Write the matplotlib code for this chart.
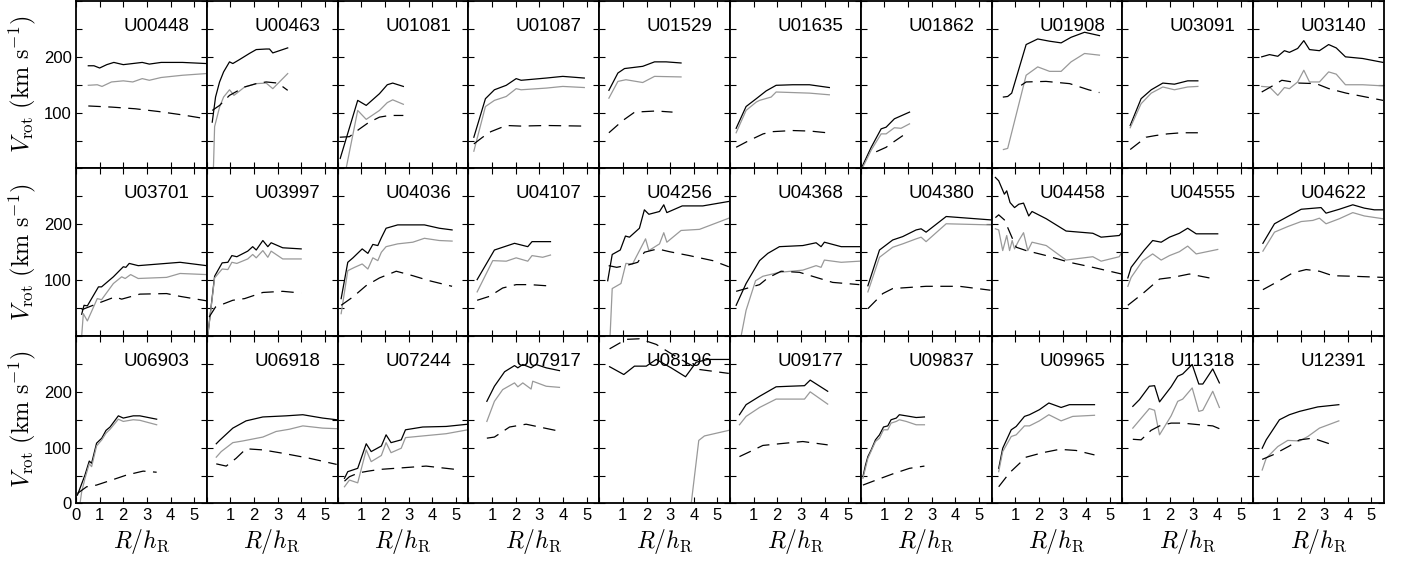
import matplotlib
matplotlib.use("Agg")
import matplotlib.pyplot as plt
import numpy as np

plt.rcParams['mathtext.fontset'] = 'cm'

names = ["U00448", "U00463", "U01081", "U01087", "U01529", "U01635", "U01862", "U01908", "U03091", "U03140",
         "U03701", "U03997", "U04036", "U04107", "U04256", "U04368", "U04380", "U04458", "U04555", "U04622",
         "U06903", "U06918", "U07244", "U07917", "U08196", "U09177", "U09837", "U09965", "U11318", "U12391"]

# black solid curves: (R/hR, Vrot)
black = [
    [(0.52,184),(0.76,184),(1.0,180),(1.3,186),(1.6,190),(2.0,186),(2.4,188),(2.8,190),(3.1,187),(3.6,190),(4.5,190),(5.5,188)],
    [(0.23,83),(0.37,128),(0.54,155),(0.71,173),(0.96,191),(1.1,188),(1.38,195),(1.8,206),(2.09,213),(2.51,214),(2.65,214),(2.79,207),(3.42,216)],
    [(0.11,18),(0.85,122),(1.21,113),(1.77,134),(2.1,150),(2.33,153),(2.78,147)],
    [(0.23,56),(0.72,125),(1.1,141),(1.6,149),(2.02,161),(2.23,158),(3.29,162),(3.99,165),(4.9,162)],
    [(0.41,140),(0.79,171),(1.07,179),(1.84,183),(2.34,191),(2.83,191),(3.46,189)],
    [(0.26,72),(0.68,111),(1.11,125),(1.53,139),(1.95,149),(2.65,150),(3.36,150),(4.2,145)],
    [(0.02,0),(0.44,38),(0.86,71),(1.07,74),(1.42,89),(2.06,101)],
    [(0.5,128),(0.68,129),(0.85,135),(1.46,222),(1.95,232),(2.45,228),(2.94,225),(3.36,235),(3.93,244),(4.56,238)],
    [(0.33,77),(0.79,125),(1.22,141),(1.71,153),(2.2,151),(2.76,157),(3.19,157)],
    [(0.36,200),(0.69,204),(1.04,201),(1.32,211),(1.53,208),(1.88,215),(2.14,229),(2.38,213),(2.8,211),(3.19,222),(3.51,216),(3.9,200),(4.63,197),(5.49,190)],
    [(0.24,39),(0.34,55),(0.48,54),(0.95,88),(1.08,88),(1.58,106),(2.0,124),(2.11,123),(2.25,130),(2.63,126),(4.4,132),(5.52,126)],
    [(0.04,0),(0.33,107),(0.65,131),(0.89,132),(1.06,144),(1.27,142),(1.73,152),(1.94,160),(2.09,154),(2.37,171),(2.58,160),(2.72,167),(3.21,158),(3.99,156)],
    [(0.15,67),(0.43,132),(0.65,140),(1.04,156),(1.28,148),(1.49,164),(1.7,162),(1.85,176),(2.05,193),(2.54,199),(3.67,199),(4.3,193),(4.84,190)],
    [(0.37,101),(1.1,154),(1.95,166),(2.51,160),(2.69,169),(3.47,169)],
    [(0.36,99),(0.55,146),(0.89,154),(1.11,179),(1.28,177),(1.7,193),(1.91,226),(2.1,218),(2.55,223),(2.73,235),(2.86,221),(3.51,233),(4.38,233),(5.48,241)],
    [(0.26,55),(0.68,94),(1.25,135),(1.6,148),(2.09,160),(3.08,162),(3.64,167),(3.85,160),(3.99,168),(4.7,160),(5.47,160)],
    [(0.3,90),(0.79,154),(1.35,172),(1.77,178),(2.34,190),(2.55,192),(2.76,186),(3.61,214),(5.48,208)],
    [(0.16,284),(0.3,278),(0.54,254),(0.64,260),(0.78,239),(0.97,230),(1.15,236),(1.35,238),(1.57,215),(1.71,223),(2.31,210),(3.15,188),(4.28,184),(4.63,177),(5.4,180),(5.5,185)],
    [(0.23,104),(0.37,123),(0.93,154),(1.28,171),(1.64,168),(1.99,177),(2.41,184),(2.76,193),(3.12,183),(4.03,183)],
    [(0.41,166),(0.9,201),(1.46,214),(2.03,227),(2.87,230),(3.08,220),(3.64,227),(4.21,235),(4.7,229),(5.12,226),(5.49,226)],
    [(0.06,15),(0.38,51),(0.56,76),(0.66,72),(0.87,108),(1.09,117),(1.27,131),(1.44,137),(1.79,157),(2.0,153),(2.42,157),(2.7,157),(3.41,151)],
    [(0.4,107),(0.54,113),(1.1,135),(1.66,148),(2.37,155),(3.35,157),(4.06,159),(4.9,153),(5.49,150)],
    [(0.29,45),(0.43,57),(0.85,63),(1.21,107),(1.42,93),(1.85,103),(2.05,123),(2.26,109),(2.69,114),(2.87,132),(3.6,137),(4.59,138),(5.5,142)],
    [(0.78,183),(1.1,210),(1.53,236),(1.95,247),(2.09,243),(2.3,249),(2.65,243),(2.86,249),(3.29,243),(3.85,238)],
    [(0.44,245),(1.04,231),(1.49,246),(1.99,246),(2.41,258),(3.04,243),(3.65,227),(4.1,253),(4.59,258),(5.48,258)],
    [(0.4,159),(0.68,177),(1.25,192),(1.95,209),(2.51,210),(3.15,211),(3.39,221),(4.13,201)],
    [(0.09,48),(0.2,69),(0.3,84),(0.44,96),(0.62,114),(0.79,123),(0.96,137),(1.14,139),(1.28,150),(1.5,153),(1.63,159),(1.92,157),(2.34,154),(2.69,155)],
    [(0.3,63),(0.47,99),(0.83,132),(1.04,138),(1.39,156),(1.6,159),(2.02,168),(2.42,180),(2.94,172),(3.29,177),(4.35,177)],
    [(0.44,174),(0.72,186),(1.14,210),(1.36,211),(1.57,182),(2.06,209),(2.34,228),(2.55,232),(2.95,249),(3.23,214),(3.4,214),(3.82,241),(4.1,216)],
    [(0.38,99),(0.55,114),(1.11,150),(1.53,159),(1.96,165),(2.73,173),(3.62,177)],
]

# gray solid curves
gray = [
    [(0.52,149),(0.9,150),(1.1,147),(1.5,155),(2.0,157),(2.4,155),(2.8,161),(3.1,158),(3.6,163),(4.5,167),(5.5,170)],
    [(0.28,0),(0.33,75),(0.54,110),(0.71,128),(0.96,141),(1.15,131),(1.6,146),(2.09,152),(2.51,153),(2.79,143),(3.42,170)],
    [(0.36,0),(0.85,104),(1.21,88),(1.77,104),(2.1,118),(2.33,123),(2.78,115)],
    [(0.23,31),(0.72,111),(1.1,122),(1.6,129),(2.02,143),(2.23,141),(3.29,144),(3.99,147),(4.9,145)],
    [(0.41,126),(0.79,156),(1.13,159),(1.84,154),(2.34,165),(3.46,164)],
    [(0.26,64),(0.68,104),(1.11,119),(1.25,122),(1.74,128),(1.95,137),(3.36,135),(4.2,132)],
    [(0.06,0),(0.44,33),(0.86,62),(1.07,62),(1.42,73),(1.7,72),(2.06,80)],
    [(0.5,34),(0.68,36),(1.46,167),(1.95,182),(2.45,174),(2.94,174),(3.36,191),(3.93,206),(4.56,203)],
    [(0.33,73),(0.79,116),(1.22,135),(1.71,146),(2.2,141),(2.76,146),(3.19,147)],
    [(0.36,147),(0.69,146),(1.04,131),(1.32,145),(1.53,143),(1.88,155),(2.14,176),(2.38,155),(2.8,155),(3.19,173),(3.51,169),(3.9,150),(4.63,150),(5.49,148)],
    [(0.24,0),(0.31,40),(0.48,27),(0.9,67),(1.08,65),(1.58,94),(1.93,106),(2.08,103),(2.31,110),(2.63,103),(3.83,105),(4.4,112),(5.52,110)],
    [(0.04,0),(0.33,104),(0.65,120),(0.89,119),(1.06,132),(1.27,130),(1.73,138),(1.94,146),(2.09,140),(2.37,153),(2.58,141),(2.72,152),(3.21,138),(3.99,138)],
    [(0.15,40),(0.43,117),(0.72,123),(1.04,129),(1.28,120),(1.49,140),(1.7,135),(1.85,150),(2.05,160),(2.54,165),(3.18,168),(3.67,175),(4.3,171),(4.84,170)],
    [(0.37,79),(1.03,135),(1.6,134),(2.02,140),(2.51,134),(2.69,144),(3.14,141),(3.47,145)],
    [(0.46,0),(0.55,85),(0.92,94),(1.13,130),(1.41,129),(1.96,174),(2.1,153),(2.55,165),(2.73,185),(2.86,168),(3.46,189),(4.24,191),(5.48,211)],
    [(0.47,0),(0.68,46),(1.08,99),(1.39,107),(2.09,114),(3.08,118),(3.64,126),(3.85,123),(3.99,136),(4.7,132),(5.47,134)],
    [(0.3,79),(0.79,141),(1.35,159),(1.77,165),(2.34,174),(2.55,177),(2.76,169),(3.61,201),(5.48,199)],
    [(0.16,192),(0.3,190),(0.47,153),(0.64,180),(0.76,153),(0.87,171),(0.97,156),(1.15,171),(1.35,185),(1.53,153),(1.71,168),(2.31,162),(3.15,136),(4.28,142),(4.63,134),(5.4,142),(5.5,150)],
    [(0.23,89),(0.37,105),(0.86,135),(1.28,147),(1.64,136),(1.99,144),(2.41,151),(2.76,161),(3.12,147),(4.03,155)],
    [(0.41,152),(0.9,186),(1.46,196),(2.03,205),(2.52,207),(2.8,211),(3.08,201),(3.64,210),(4.21,221),(4.7,215),(5.49,210)],
    [(0.17,0),(0.24,21),(0.38,45),(0.56,71),(0.66,66),(0.87,103),(1.09,114),(1.27,126),(1.44,133),(1.79,151),(2.0,147),(2.42,150),(2.7,149),(3.41,141)],
    [(0.4,83),(0.61,93),(1.1,109),(1.52,112),(2.37,119),(2.93,129),(3.49,133),(4.06,139),(4.9,135),(5.49,134)],
    [(0.29,30),(0.5,42),(0.85,37),(1.21,96),(1.42,75),(1.85,86),(2.05,109),(2.26,91),(2.69,99),(2.87,118),(3.6,121),(4.59,125),(5.5,132)],
    [(0.78,147),(1.1,183),(1.45,204),(1.95,216),(2.09,209),(2.3,216),(2.65,205),(2.72,219),(3.29,210),(3.85,208)],
    [(3.89,0),(4.21,113),(4.45,121),(5.48,131)],
    [(0.4,141),(0.68,156),(1.25,172),(1.95,187),(2.51,187),(3.15,187),(3.39,200),(4.13,178)],
    [(0.09,45),(0.3,81),(0.62,111),(0.79,117),(0.96,132),(1.14,132),(1.28,144),(1.5,147),(1.63,150),(1.92,147),(2.34,141),(2.69,141)],
    [(0.3,57),(0.47,93),(0.83,120),(1.04,123),(1.39,139),(1.6,139),(2.02,148),(2.42,159),(2.94,148),(3.43,156),(4.35,158)],
    [(0.44,135),(1.14,170),(1.36,167),(1.57,123),(2.06,157),(2.34,183),(2.55,187),(2.95,207),(3.23,165),(3.4,167),(3.82,201),(4.1,172)],
    [(0.38,60),(0.55,81),(1.04,102),(1.46,113),(1.96,112),(2.31,120),(2.8,135),(3.62,148)],
]

# black dashed curves
dashed = [
    [(0.52,112),(1.5,110),(2.5,107),(3.5,102),(4.5,96),(5.5,89)],
    [(0.23,104),(0.54,113),(0.96,131),(1.6,146),(2.09,152),(2.51,155),(3.0,153),(3.42,140)],
    [(0.09,56),(0.5,57),(0.9,70),(1.3,82),(1.77,92),(2.2,95),(2.78,95)],
    [(0.23,44),(0.6,56),(0.95,66),(1.6,77),(2.2,76),(3.3,77),(4.85,76)],
    [(0.41,64),(1.0,86),(1.5,101),(2.4,103),(3.1,101)],
    [(0.26,38),(0.8,50),(1.4,62),(1.8,66),(2.65,68),(3.4,67),(4.1,64)],
    [(0.65,30),(1.07,38),(1.4,48),(1.78,59)],
    [(1.25,149),(1.46,155),(2.3,156),(3.3,152),(4.1,141),(4.56,136)],
    [(0.33,34),(1.0,56),(1.4,59),(1.9,62),(2.5,64),(3.19,64)],
    [(0.36,137),(0.86,149),(1.21,158),(1.95,153),(2.66,152),(3.2,143),(3.93,135),(4.77,128),(5.49,122)],
    [(0.24,47),(1.02,60),(1.65,70),(1.93,66),(2.7,75),(3.83,76),(4.4,71),(5.52,63)],
    [(0.1,34),(0.37,52),(1.1,64),(1.6,67),(2.37,78),(3.21,80),(3.99,77)],
    [(0.15,55),(0.65,70),(1.2,90),(1.77,104),(2.48,116),(3.18,108),(3.88,99),(4.84,89)],
    [(0.37,64),(0.89,71),(1.45,86),(2.02,92),(2.6,92),(3.3,90)],
    [(0.4,126),(0.74,123),(1.21,127),(1.63,132),(1.91,150),(2.47,156),(2.97,151),(3.81,144),(4.8,135),(5.48,124)],
    [(0.26,80),(0.68,85),(1.25,92),(1.6,104),(2.16,116),(2.94,114),(3.64,105),(4.34,96),(5.47,92)],
    [(0.3,49),(0.93,76),(1.35,85),(2.76,89),(4.17,89),(5.48,82)],
    [(0.16,212),(0.3,217),(0.54,208),(1.04,159),(1.46,153),(2.31,144),(3.29,132),(4.28,123),(5.5,111)],
    [(0.23,55),(0.86,76),(1.57,102),(2.13,105),(2.83,111),(3.68,104)],
    [(0.41,83),(1.1,99),(1.67,113),(2.24,119),(2.8,116),(3.36,108),(4.21,107),(5.49,105)],
    [(0.06,18),(0.45,30),(0.87,33),(1.58,43),(2.14,51),(2.84,58),(3.41,56)],
    [(0.4,71),(0.82,67),(1.24,81),(1.66,98),(2.37,96),(3.21,90),(4.34,81),(5.49,70)],
    [(0.29,40),(0.5,48),(0.9,55),(1.3,58),(1.77,61),(2.76,64),(3.74,67),(5.01,61)],
    [(0.78,117),(1.1,119),(1.74,137),(2.44,142),(3.0,137),(3.68,131)],
    [(0.44,277),(1.14,294),(1.7,295),(2.41,285),(2.98,270),(3.7,252),(4.24,240),(5.48,233)],
    [(0.4,84),(1.0,96),(1.39,104),(2.09,107),(3.08,111),(4.13,105)],
    [(0.09,33),(0.65,42),(1.35,53),(2.06,63),(2.69,67)],
    [(0.3,30),(0.76,55),(1.46,83),(2.16,91),(2.87,97),(3.57,95),(4.35,87)],
    [(0.44,115),(0.79,114),(1.21,131),(1.57,139),(2.06,144),(2.55,144),(3.26,141),(3.82,139),(4.1,134)],
    [(0.38,79),(0.83,87),(1.53,103),(1.96,114),(2.52,117),(3.22,107)],
]

y_ticks = [0, 50, 100, 150, 200, 250, 300]
x_ticks = [0, 1, 2, 3, 4, 5]

W, H = 1401, 561
fig, axes = plt.subplots(3, 10, figsize=(W / 100, H / 100), dpi=100)
fig.subplots_adjust(left=76 / W, right=1384 / W, top=1 - 1 / H, bottom=1 - 503.5 / H,
                    wspace=0, hspace=0)

tick_font = dict(family=['Liberation Sans', 'DejaVu Sans'], size=12)

for i, ax in enumerate(axes.flat):
    row, col = divmod(i, 10)
    r, v = zip(*black[i])
    ax.plot(r, v, color='black', lw=0.9)
    r, v = zip(*gray[i])
    ax.plot(r, v, color='#999999', lw=0.9)
    r, v = zip(*dashed[i])
    ax.plot(r, v, color='black', lw=0.9, dashes=(10, 6))
    ax.set_xlim(0, 5.53)
    ax.set_ylim(0, 300)
    ax.set_xticks(x_ticks)
    ax.set_yticks(y_ticks)
    ax.tick_params(direction='in', top=True, right=True, length=4, width=0.8,
                   labelsize=12, pad=3)
    if col == 0:
        if row == 2:
            ylabs = ['0', '', '100', '', '200', '', '']
        else:
            ylabs = ['', '', '100', '', '200', '', '']
        ax.set_yticklabels(ylabs, fontdict=tick_font)
    else:
        ax.set_yticklabels([])
    if row == 2:
        if col == 0:
            xlabs = ['0', '1', '2', '3', '4', '5']
        else:
            xlabs = ['', '1', '2', '3', '4', '5']
        ax.set_xticklabels(xlabs, fontdict=tick_font)
    else:
        ax.set_xticklabels([])
    for s in ax.spines.values():
        s.set_linewidth(1.3)
    ax.text(0.615, 0.85, names[i], transform=ax.transAxes, ha='center', va='center',
            fontsize=13.5, family=['Liberation Sans', 'DejaVu Sans'])
    if row == 2:
        ax.text(0.5, -0.225, r'$R/h_{\rm R}$', transform=ax.transAxes, ha='center',
                va='center', fontsize=17)

for row in range(3):
    yc = 1 - (1 + (row + 0.5) * 167.5) / H
    fig.text(22 / W, yc, r'$V_{\rm rot}\ ({\rm km\ s^{-1}})$', rotation=90,
             ha='center', va='center', fontsize=17.5)

fig.savefig('out.png', dpi=100)
